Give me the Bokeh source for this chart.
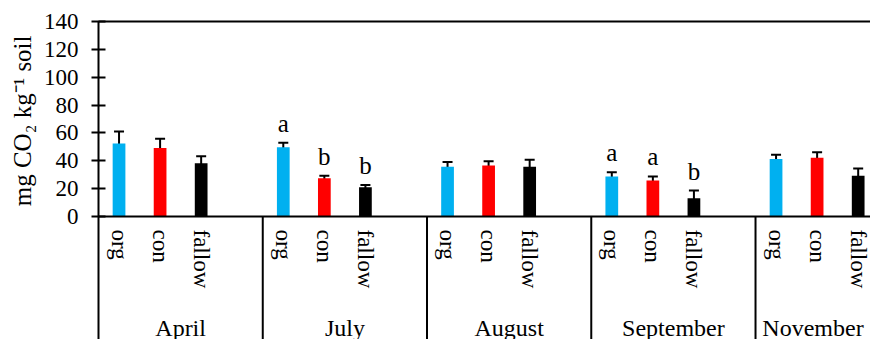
import math

from bokeh.embed import file_html
from bokeh.models import (ColumnDataSource, FixedTicker, LabelSet, LinearAxis,
                          Range1d, TeeHead, Title, Whisker)
from bokeh.plotting import figure
from bokeh.resources import INLINE

# Soil respiration by sampling month and management
months = ["April", "July", "August", "September", "November"]
treatments = ["org", "con", "fallow"]
colors = ["#00B0F0", "#FF0000", "#000000"]

org_mean = [52.5, 49.7, 35.8, 28.7, 41.3]
org_err = [8.6, 3.3, 3.4, 3.1, 3.0]
con_mean = [49.2, 27.5, 36.6, 25.8, 42.1]
con_err = [6.7, 1.8, 3.0, 3.0, 4.0]
fallow_mean = [38.2, 21.0, 35.8, 13.1, 29.2]
fallow_err = [5.0, 1.7, 5.0, 5.5, 5.2]

# significance letters within a month
org_letter = ["", "a", "", "a", ""]
con_letter = ["", "b", "", "a", ""]
fallow_letter = ["", "b", "", "b", ""]

y_ticks = [0, 20, 40, 60, 80, 100, 120, 140]
y_title = "mg CO\u2082 kg\u207b\u00b9 soil"

FONT = "Liberation Serif"
SLOTS = 4          # three bars plus one empty slot per month
X_END = 18.8       # visible extent of the category axis
Y_MAX = 140
Y_FLOOR = -88.3    # room under the zero line for the two label rows

means = [org_mean, con_mean, fallow_mean]
errs = [org_err, con_err, fallow_err]
letters = [org_letter, con_letter, fallow_letter]

xs, tops, lows, highs, fills, labs = [], [], [], [], [], []
tick_labels = {}
for g, _ in enumerate(months):
    for i, t in enumerate(treatments):
        x = g * SLOTS + i + 0.5
        m, e = means[i][g], errs[i][g]
        xs.append(x)
        tops.append(m)
        lows.append(m - e)
        highs.append(m + e)
        fills.append(colors[i])
        labs.append(letters[i][g])
        tick_labels[x] = t

src = ColumnDataSource(dict(x=xs, top=tops, lower=lows, upper=highs,
                            color=fills, letter=labs))

p = figure(width=870, height=339, x_range=Range1d(0, X_END),
           y_range=Range1d(Y_FLOOR, Y_MAX), x_axis_type=None, y_axis_type=None,
           output_backend="svg", toolbar_location=None,
           min_border_left=98, min_border_right=0, min_border_top=21,
           min_border_bottom=0)
p.outline_line_color = None
p.xgrid.visible = False
p.ygrid.visible = False
p.background_fill_color = "white"
p.border_fill_color = "white"

# y axis (its line also runs down as the first month separator)
yax = LinearAxis(ticker=FixedTicker(ticks=y_ticks))
yax.major_label_text_font = FONT
yax.major_label_text_font_size = "23px"
yax.major_label_text_color = "black"
yax.major_label_standoff = 13
yax.major_tick_in = 7
yax.major_tick_out = 7
yax.major_tick_line_width = 2
yax.major_tick_line_color = "black"
yax.minor_tick_line_color = None
yax.axis_line_width = 2
yax.axis_line_color = "black"
p.add_layout(yax, "left")

# y axis title, kept beside the value range rather than the whole frame
p.add_layout(Title(text=y_title, align="right", offset=14, standoff=10,
                   text_font=FONT, text_font_size="25px",
                   text_font_style="normal", text_color="black"), "left")

# category axis on the zero line with the treatment names
xax = LinearAxis(ticker=FixedTicker(ticks=xs), fixed_location=0)
xax.major_label_overrides = tick_labels
xax.major_label_orientation = -math.pi / 2
xax.major_label_text_font = FONT
xax.major_label_text_font_size = "23px"
xax.major_label_text_color = "black"
xax.major_label_standoff = 13
xax.major_tick_in = 0
xax.major_tick_out = 0
xax.minor_tick_line_color = None
xax.axis_line_width = 2
xax.axis_line_color = "black"
p.add_layout(xax, "below")

# top border line
top = LinearAxis(ticker=FixedTicker(ticks=[]))
top.major_tick_in = 0
top.major_tick_out = 0
top.minor_tick_line_color = None
top.major_label_text_font_size = "0px"
top.axis_line_width = 2
top.axis_line_color = "black"
p.add_layout(top, "above")

# month separators below the zero line
separators = [g * SLOTS for g in range(1, len(months))]
p.segment(x0=separators, y0=[0] * len(separators), x1=separators,
          y1=[Y_FLOOR] * len(separators), line_color="black", line_width=2)

# bars and error bars
p.vbar(x="x", top="top", width=0.31, source=src, fill_color="color",
       line_color=None)
p.add_layout(Whisker(base="x", upper="upper", lower="lower", source=src,
                     line_width=2, line_color="black",
                     upper_head=TeeHead(size=10, line_width=2, line_color="black"),
                     lower_head=TeeHead(size=10, line_width=2, line_color="black")))

# letters above the error bars
p.add_layout(LabelSet(x="x", y="upper", text="letter", source=src,
                      y_offset=11, text_align="center",
                      text_baseline="alphabetic", text_font=FONT,
                      text_font_size="25px", text_color="black"))

# month labels centred in the visible part of each group
mx = [(g * SLOTS + min((g + 1) * SLOTS, X_END)) / 2 for g in range(len(months))]
msrc = ColumnDataSource(dict(x=mx, y=[Y_FLOOR] * len(months), text=months))
p.add_layout(LabelSet(x="x", y="y", text="text", source=msrc,
                      y_offset=4, text_align="center",
                      text_baseline="alphabetic", text_font=FONT,
                      text_font_size="24px", text_color="black"))

open("out.html", "w").write(file_html(p, INLINE))
